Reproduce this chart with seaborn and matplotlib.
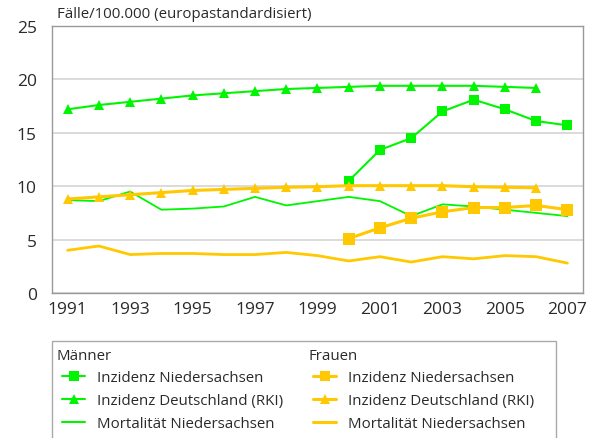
import numpy as np
import pandas as pd
import seaborn as sns
import matplotlib.pyplot as plt
from matplotlib.lines import Line2D
from matplotlib.patches import Rectangle

years = list(range(1991, 2008))

# Männer
m_inz_nds_years = list(range(2000, 2008))
m_inz_nds = [10.5, 13.4, 14.5, 17.0, 18.1, 17.2, 16.1, 15.7]
m_inz_de_years = list(range(1991, 2007))
m_inz_de = [17.2, 17.6, 17.9, 18.2, 18.5, 18.7, 18.9, 19.1, 19.2, 19.3, 19.4, 19.4, 19.4, 19.4, 19.3, 19.2]
m_mort = [8.7, 8.6, 9.5, 7.8, 7.9, 8.1, 9.0, 8.2, 8.6, 9.0, 8.6, 7.2, 8.3, 8.1, 7.8, 7.5, 7.2]

# Frauen
f_inz_nds_years = list(range(2000, 2008))
f_inz_nds = [5.1, 6.1, 7.0, 7.6, 8.0, 8.0, 8.2, 7.8]
f_inz_de_years = list(range(1991, 2007))
f_inz_de = [8.8, 9.0, 9.2, 9.4, 9.6, 9.7, 9.8, 9.9, 9.95, 10.05, 10.05, 10.05, 10.05, 9.95, 9.9, 9.85]
f_mort = [4.0, 4.4, 3.6, 3.7, 3.7, 3.6, 3.6, 3.8, 3.5, 3.0, 3.4, 2.9, 3.4, 3.2, 3.5, 3.4, 2.8]

green = '#00f500'
orange = '#ffc800'
txt = '#2a2a2a'

sns.set_style('white')
plt.rcParams['font.family'] = ['Open Sans', 'DejaVu Sans']

fig = plt.figure(figsize=(5.91, 4.39), dpi=100)
ax = fig.add_axes([52 / 591, 1 - 294 / 439, (583 - 52) / 591, (294 - 27) / 439])

sns.lineplot(x=m_inz_nds_years, y=m_inz_nds, color=green, lw=1.5, marker='s', markersize=7, markeredgewidth=0, ax=ax)
sns.lineplot(x=m_inz_de_years, y=m_inz_de, color=green, lw=1.5, marker='^', markersize=7.5, markeredgewidth=0, ax=ax)
sns.lineplot(x=years, y=m_mort, color=green, lw=1.3, ax=ax)
sns.lineplot(x=f_inz_nds_years, y=f_inz_nds, color=orange, lw=2.2, marker='s', markersize=8, markeredgewidth=0, ax=ax)
sns.lineplot(x=f_inz_de_years, y=f_inz_de, color=orange, lw=2.2, marker='^', markersize=7.5, markeredgewidth=0, ax=ax)
sns.lineplot(x=years, y=f_mort, color=orange, lw=2.0, ax=ax)

ax.set_xlim(1990.5, 2007.5)
ax.set_ylim(0, 25)
ax.set_yticks([0, 5, 10, 15, 20, 25])
ax.set_xticks(np.arange(1990.5, 2008, 1.0))
ax.set_xticklabels([])
ax.set_xticks(years[::2], minor=True)
ax.set_xticklabels([str(y) for y in years[::2]], minor=True)
ax.tick_params(axis='x', which='major', direction='out', length=5, width=1, color='#888888')
ax.tick_params(axis='x', which='minor', length=0, pad=6, labelsize=12.5, labelcolor=txt)
ax.tick_params(axis='y', direction='out', length=6, width=1, color='#888888', pad=5, labelsize=12.5, labelcolor=txt)
ax.yaxis.grid(True, color='#d4d4d4', lw=1.2)
ax.set_axisbelow(True)
for s in ax.spines.values():
    s.set_color('#999999')
    s.set_linewidth(1)
ax.set_xlabel('')
ax.set_ylabel('')

fig.text(57 / 591, 1 - 15 / 439, 'Fälle/100.000 (europastandardisiert)', fontsize=10.8, color=txt, va='center', ha='left')

# legend frame
fig.patches.append(Rectangle((52 / 591, -0.01), (556 - 52) / 591, 0.01 + (439 - 342) / 439,
                             transform=fig.transFigure, fill=False, edgecolor='#aaaaaa', lw=1))
fig.text(57 / 591, 1 - 357 / 439, 'Männer', fontsize=10.8, color=txt, va='center', ha='left')
fig.text(308 / 591, 1 - 357 / 439, 'Frauen', fontsize=10.8, color=txt, va='center', ha='left')

labels = ['Inzidenz Niedersachsen', 'Inzidenz Deutschland (RKI)', 'Mortalität Niedersachsen']
for col, x0 in [(green, 62), (orange, 313)]:
    lw = 1.5 if col == green else 2.2
    handles = [Line2D([], [], color=col, lw=lw, marker='s', markersize=7, markeredgewidth=0),
               Line2D([], [], color=col, lw=lw, marker='^', markersize=7, markeredgewidth=0),
               Line2D([], [], color=col, lw=lw)]
    leg = fig.legend(handles, labels, loc='upper left', bbox_to_anchor=(x0 / 591, 1 - 371 / 439),
                     frameon=False, fontsize=10.8, borderpad=0, borderaxespad=0,
                     handlelength=1.55, handletextpad=0.8, labelspacing=0.55)
    for t in leg.get_texts():
        t.set_color(txt)

fig.savefig('out.png', dpi=100)
